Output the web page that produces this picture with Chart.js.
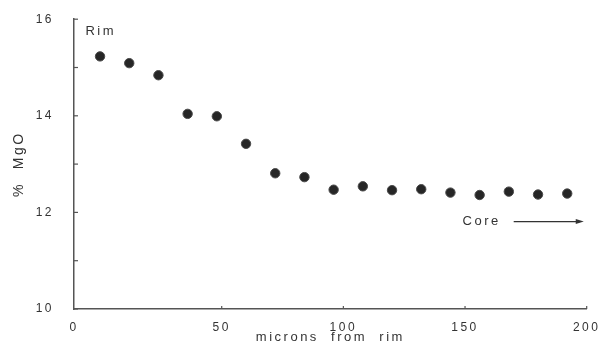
<!DOCTYPE html>
<html>
<head>
<meta charset="utf-8">
<script src="https://cdn.jsdelivr.net/npm/chart.js@4/dist/chart.umd.min.js"></script>
<style>
  html, body { margin: 0; padding: 0; background: #fff; }
  #wrap { width: 603px; height: 346px; }
</style>
</head>
<body>
<div id="wrap"><canvas id="mgo" width="603" height="346"></canvas></div>
<script>
// distance from rim (microns) and MgO wt%
const microns = [0, 12, 24, 36, 48, 60, 72, 84, 96, 108, 120, 132, 144, 156, 168, 180, 192];
const mgo = [15.23, 15.09, 14.84, 14.04, 13.99, 13.42, 12.81, 12.73, 12.47, 12.54, 12.46, 12.48, 12.41, 12.36, 12.43, 12.37, 12.39];
const xTicks = [50, 100, 150, 200];
const yTicks = [10, 11, 12, 13, 14, 15, 16];

const ink = '#333';
const face = '"Liberation Sans", Arial, sans-serif';
const xMin = -10.7;   // axis corner, labelled "0" in the original

// letter spaced text like the old typewriter figure
const spacing = {
  id: 'spacing',
  beforeDraw(chart) { chart.ctx.letterSpacing = '2.5px'; }
};

// inward tick marks + Rim / Core notes
const marks = {
  id: 'marks',
  afterDraw(chart) {
    const ctx = chart.ctx;
    const x = chart.scales.x, y = chart.scales.y;
    const area = chart.chartArea;
    ctx.save();
    ctx.strokeStyle = '#555';
    ctx.lineWidth = 1.2;
    yTicks.forEach(v => {
      const py = y.getPixelForValue(v);
      ctx.beginPath(); ctx.moveTo(area.left, py); ctx.lineTo(area.left + 4, py); ctx.stroke();
    });
    xTicks.forEach(v => {
      const px = x.getPixelForValue(v);
      ctx.beginPath(); ctx.moveTo(px, area.bottom); ctx.lineTo(px, area.bottom - 3); ctx.stroke();
    });

    ctx.fillStyle = ink;
    ctx.font = '13px ' + face;
    ctx.textBaseline = 'middle';
    ctx.textAlign = 'left';
    ctx.fillText('Rim', x.getPixelForValue(-6), y.getPixelForValue(15.75));
    ctx.fillText('Core', x.getPixelForValue(149), y.getPixelForValue(11.81));

    // arrow to the core
    const ay = y.getPixelForValue(11.81);
    const a0 = x.getPixelForValue(170), a1 = x.getPixelForValue(198.8);
    ctx.strokeStyle = ink;
    ctx.lineWidth = 1.2;
    ctx.beginPath(); ctx.moveTo(a0, ay); ctx.lineTo(a1 - 4, ay); ctx.stroke();
    ctx.beginPath();
    ctx.moveTo(a1, ay); ctx.lineTo(a1 - 8, ay - 2.5); ctx.lineTo(a1 - 8, ay + 2.5);
    ctx.closePath(); ctx.fill();
    ctx.restore();
  }
};

new Chart(document.getElementById('mgo'), {
  type: 'scatter',
  data: {
    datasets: [{
      data: microns.map((m, i) => ({ x: m, y: mgo[i] })),
      backgroundColor: '#262626',
      borderColor: '#4a4a4a',
      borderWidth: 1,
      pointRadius: 4.7
    }]
  },
  options: {
    responsive: false,
    animation: false,
    layout: { padding: { top: 18, right: 16.3, left: 0, bottom: 0 } },
    plugins: { legend: { display: false }, tooltip: { enabled: false } },
    scales: {
      x: {
        type: 'linear',
        min: xMin,
        max: 200,
        afterBuildTicks(scale) {
          scale.ticks = [{ value: xMin }].concat(xTicks.map(v => ({ value: v })));
        },
        afterFit(scale) { scale.height = 37; },
        grid: { display: false },
        border: { display: true, color: '#555', width: 1.5 },
        ticks: {
          color: ink,
          padding: 3,
          maxRotation: 0,
          font: { family: face, size: 12 },
          callback: v => v < 0 ? '0' : v
        },
        title: {
          display: true,
          text: 'microns  from  rim',
          color: ink,
          padding: { top: 0, bottom: 1 },
          font: { family: face, size: 13 }
        }
      },
      y: {
        min: 10,
        max: 16,
        afterBuildTicks(scale) {
          scale.ticks = yTicks.map(v => ({ value: v }));
        },
        afterFit(scale) { scale.width = 74; },
        grid: { display: false },
        border: { display: true, color: '#555', width: 1.5 },
        ticks: {
          color: ink,
          padding: 12,
          font: { family: face, size: 12 },
          callback: v => v % 2 === 0 ? v : ''
        },
        title: {
          display: true,
          text: '%  MgO',
          color: ink,
          padding: { top: 11, bottom: 0 },
          font: { family: face, size: 14 }
        }
      }
    }
  },
  plugins: [spacing, marks]
});
</script>
</body>
</html>
